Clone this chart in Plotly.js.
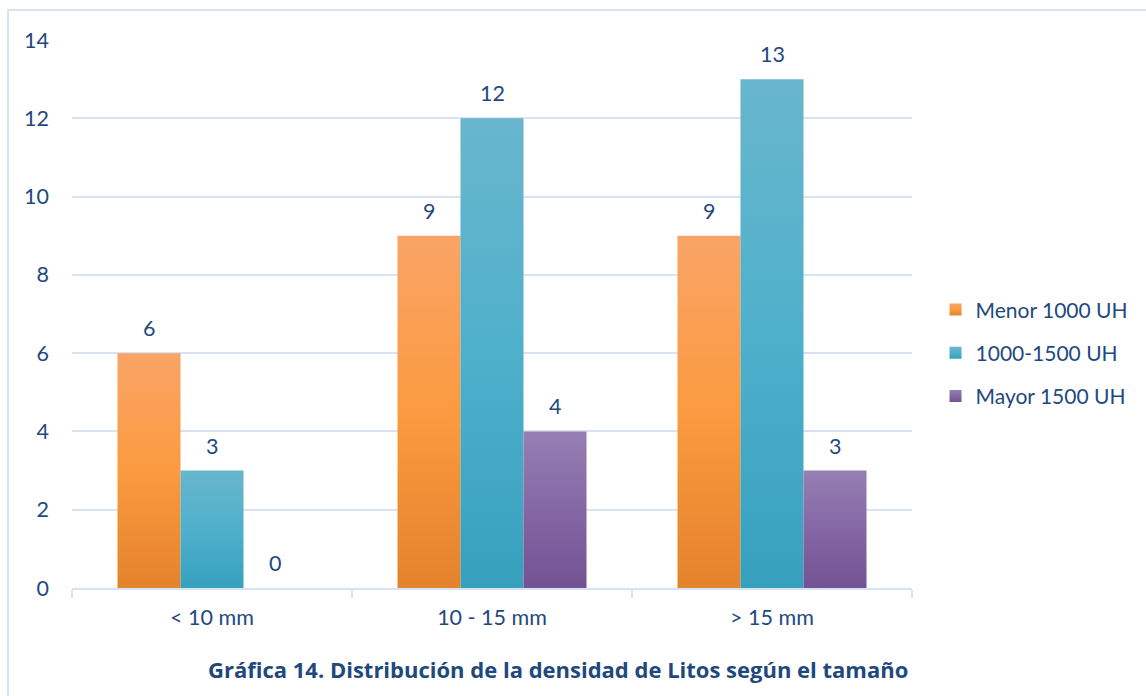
<!DOCTYPE html>
<html>
<head>
<meta charset="utf-8">
<script src="https://cdn.plot.ly/plotly-3.0.1.min.js"></script>
<style>html,body{margin:0;padding:0;background:#fff;}#chart{width:1146px;height:696px;}</style>
</head>
<body>
<div id="chart"></div>
<script>
const categories = ["< 10 mm", "10 - 15 mm", "> 15 mm"];
const seriesNames = ["Menor 1000 UH", "1000-1500 UH", "Mayor 1500 UH"];
const menor1000 = [6, 9, 9];
const entre1000y1500 = [3, 12, 13];
const mayor1500 = [0, 4, 3];
const yTicks = [0, 2, 4, 6, 8, 10, 12, 14];
const chartTitle = "Gráfica 14. Distribución de la densidad de Litos según el tamaño";

const FONT = "Lato, 'Noto Sans', sans-serif";
const TITLEFONT = "'Open Sans', Lato, sans-serif";
const FS = 21.5;
const TXT = "#1F497D";
const GRID = "#D9E2F1";
const colors = ["#F79646", "#4BACC6", "#8064A2"];
const grads = [["#F9A466", "#FB9A40", "#E5822C"], ["#68B6CD", "#4FB0CB", "#36A0BD"], ["#957FB2", "#8467A5", "#735293"]];
const BARGAP = 0.325;

const values = [menor1000, entre1000y1500, mayor1500];
const nSeries = values.length;
const barW = (1 - BARGAP) / nSeries;

const traces = values.map((v, i) => ({
  type: "bar",
  name: seriesNames[i],
  x: categories,
  y: v,
  legendgroup: "g" + i,
  marker: {color: colors[i], line: {width: 0}},
  hoverinfo: "skip"
}));

// data labels placed through the axes at each bar's position
const labels = [];
values.forEach((v, i) => {
  v.forEach((val, j) => {
    labels.push({
      xref: "x", yref: "y",
      x: j + (i - (nSeries - 1) / 2) * barW,
      y: val,
      text: String(val),
      showarrow: false,
      xanchor: "center", yanchor: "middle",
      yshift: 25,
      font: {family: FONT, size: FS, color: TXT}
    });
  });
});

const layout = {
  width: 1146, height: 696,
  margin: {l: 72, r: 234, t: 40, b: 108, autoexpand: false},
  paper_bgcolor: "#fff", plot_bgcolor: "#fff",
  font: {family: FONT, size: FS, color: TXT},
  barmode: "group",
  bargap: BARGAP,
  bargroupgap: 0,
  showlegend: true,
  legend: {
    x: 1.028, y: 0.545, xanchor: "left", yanchor: "top",
    font: {family: FONT, size: 21, color: TXT},
    tracegroupgap: 13,
    itemwidth: 30,
    bgcolor: "rgba(0,0,0,0)"
  },
  xaxis: {
    type: "category",
    range: [-0.5, 2.5],
    showgrid: false,
    showline: true, linecolor: GRID, linewidth: 2,
    ticks: "outside", tickson: "boundaries", ticklen: 8, tickcolor: GRID, tickwidth: 2,
    ticklabelstandoff: 9,
    tickfont: {family: FONT, size: FS, color: TXT},
    automargin: false,
    fixedrange: true
  },
  yaxis: {
    range: [0, 14],
    tickvals: yTicks,
    showgrid: true, gridcolor: GRID, gridwidth: 2,
    zeroline: false, showline: false, ticks: "",
    ticklabelstandoff: 22,
    tickfont: {family: FONT, size: FS, color: TXT},
    automargin: false,
    fixedrange: true
  },
  shapes: [{
    type: "rect", xref: "paper", yref: "paper",
    x0: -0.0762, x1: 1.35, y0: -0.35, y1: 1.0547,
    line: {color: GRID, width: 2}, fillcolor: "rgba(0,0,0,0)", layer: "below"
  }],
  annotations: labels.concat([{
    text: "<b>" + chartTitle + "</b>",
    xref: "paper", yref: "paper", x: 0.579, y: -0.148,
    xanchor: "center", yanchor: "middle", showarrow: false,
    font: {family: TITLEFONT, size: 22, color: TXT}
  }])
};

function applyGradients(gd) {
  const svg = gd.querySelector(".main-svg");
  const defs = svg.querySelector("defs");
  const ns = "http://www.w3.org/2000/svg";
  grads.forEach((g, i) => {
    const lg = document.createElementNS(ns, "linearGradient");
    lg.setAttribute("id", "bargrad" + i);
    lg.setAttribute("x1", "0"); lg.setAttribute("y1", "0");
    lg.setAttribute("x2", "0"); lg.setAttribute("y2", "1");
    [[0, g[0]], [0.5, g[1]], [1, g[2]]].forEach(([o, c]) => {
      const s = document.createElementNS(ns, "stop");
      s.setAttribute("offset", o); s.setAttribute("stop-color", c);
      lg.appendChild(s);
    });
    defs.appendChild(lg);
  });
  gd.querySelectorAll(".barlayer .trace").forEach((t, i) => {
    t.querySelectorAll(".point path").forEach(p => { p.style.fill = "url(#bargrad" + i + ")"; });
  });
  gd.querySelectorAll(".legend .traces").forEach((t, i) => {
    t.querySelectorAll(".legendpoints path").forEach(p => { p.style.fill = "url(#bargrad" + i + ")"; });
  });
}

Plotly.newPlot("chart", traces, layout, {displayModeBar: false, staticPlot: true}).then(applyGradients);
</script>
</body>
</html>
